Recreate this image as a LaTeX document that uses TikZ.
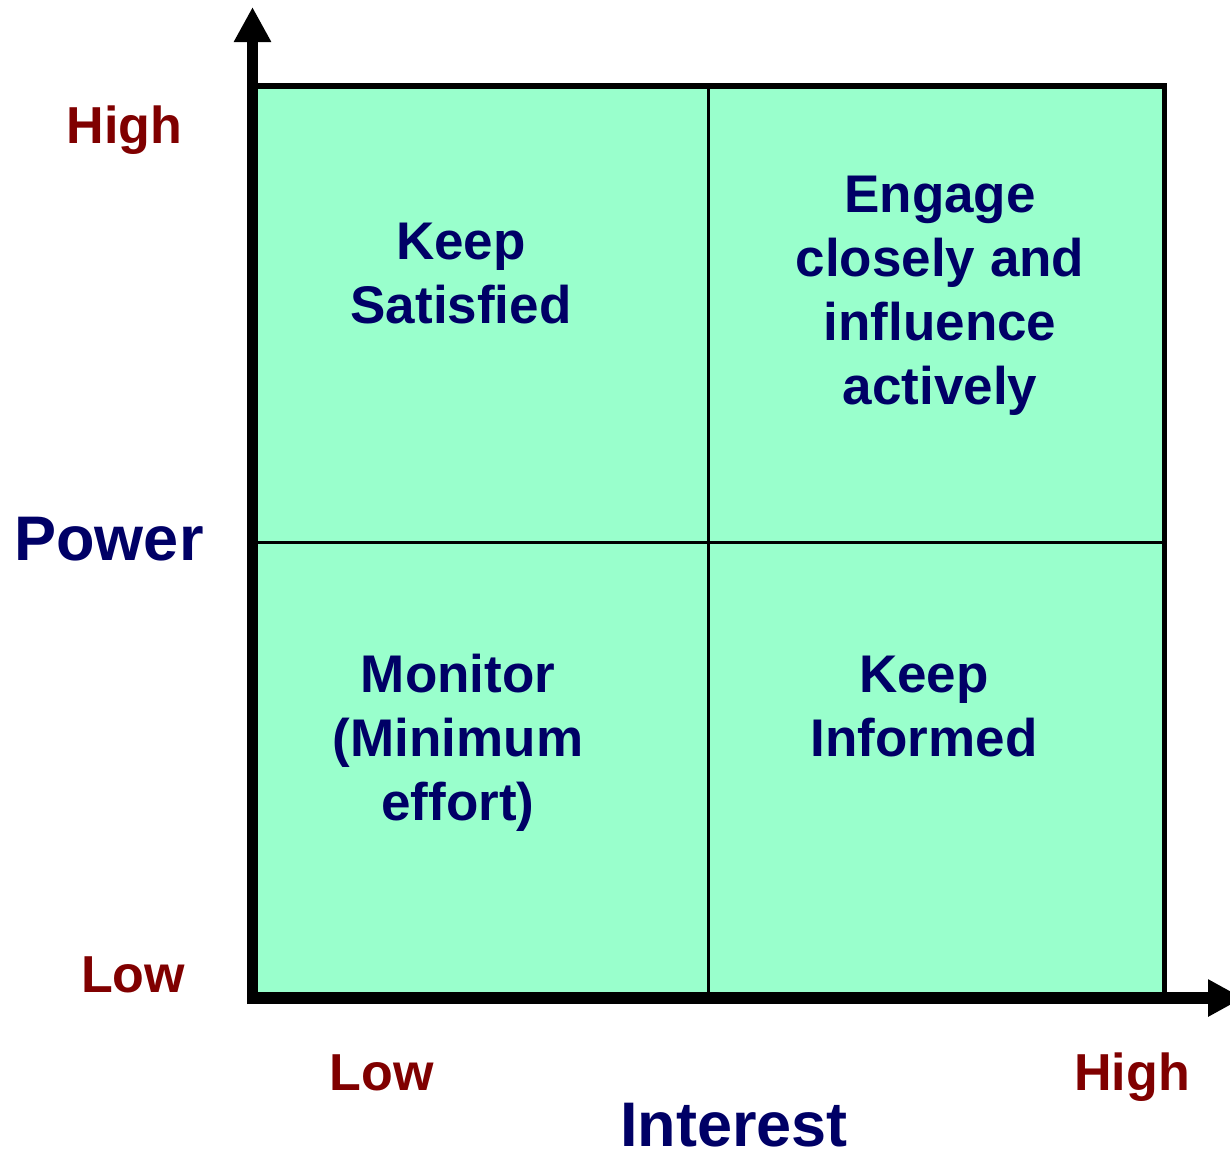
\documentclass[tikz,border=0pt]{standalone}
\usepackage{fontspec}
\setmainfont{Liberation Sans}
\usepackage{tikz}
\usetikzlibrary{arrows.meta}
\definecolor{gridfill}{HTML}{99FFCC}
\definecolor{quadnavy}{HTML}{000066}
\definecolor{levelred}{HTML}{800000}
\tikzset{every node/.style={align=center}}
\tikzset{quadtext/.style={font=\fontsize{26.5}{32}\selectfont\bfseries, text=quadnavy, anchor=base, inner sep=0pt}}
\tikzset{axistitle/.style={font=\fontsize{31.5}{38}\selectfont\bfseries, text=quadnavy, anchor=base, inner sep=0pt, text depth=0pt}}
\tikzset{leveltext/.style={font=\fontsize{26}{31}\selectfont\bfseries, text=levelred, anchor=base, inner sep=0pt}}
\tikzset{axisline/.style={line width=5.75pt, -{Triangle[width=17.5pt,length=17.5pt]}}}

\begin{document}
\begin{tikzpicture}[x=0.5pt,y=-0.5pt]
        % \draw[help lines,step=100] (0,0) grid (1230,1153);
        \useasboundingbox (0,0) rectangle (1230,1153);

        % the grid
        \fill[gridfill] (252,86) rectangle (1164.5,998);
        \draw[line width=2.8pt] (252,86) -- (1164.5,86) -- (1164.5,998);
        \draw[line width=1.5pt] (708.5,86) -- (708.5,998);
        \draw[line width=1.5pt] (252,542) -- (1164.5,542);

        % axes
        \coordinate (yfoot) at (252.5,1004);
        \coordinate (ytip) at (252.5,7);
        \coordinate (xfoot) at (247,998);
        \coordinate (xtip) at (1243,998);
        \draw[axisline] (yfoot) -- (ytip);
        \draw[axisline] (xfoot) -- (xtip);

        % quadrants (base = last line)
        \node[quadtext] (keepsat) at (461,323) {Keep\\Satisfied};
        \node[quadtext] (engage) at (940,404) {Engage\\closely and\\influence\\actively};
        \node[quadtext] (monitor) at (458,820) {Monitor\\(Minimum\\effort)};
        \node[quadtext] (keepinf) at (924,756) {Keep\\Informed};

        % axis titles
        \node[axistitle] (power) at (109,560) {Power};
        \node[axistitle] (interest) at (734,1146) {Interest};

        % levels
        \node[leveltext] (powhigh) at (124.5,143) {High};
        \node[leveltext] (powlow) at (133,992) {Low};
        \node[leveltext] (intlow) at (381.5,1090) {Low};
        \node[leveltext] (inthigh) at (1132,1090) {High};

    \end{tikzpicture}
\end{document}
